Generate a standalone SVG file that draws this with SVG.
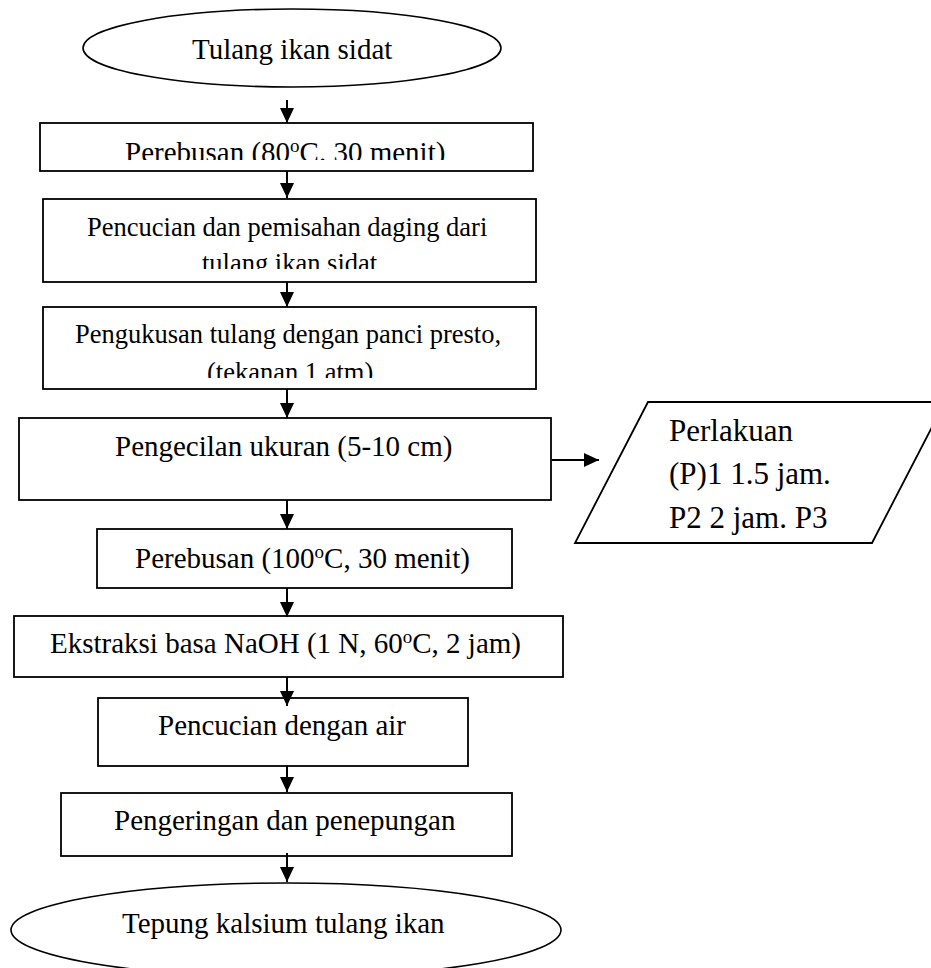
<svg xmlns="http://www.w3.org/2000/svg" width="931" height="968" viewBox="0 0 931 968">
<style>
  .shape { fill: #ffffff; stroke: #000000; stroke-width: 1.8; }
  .ell { fill: #ffffff; stroke: #000000; stroke-width: 1.6; }
  .t { font-family: "Liberation Serif", "Times New Roman", serif; fill: #000000; }
  .t29 { font-size: 29px; }
  .t26 { font-size: 26.5px; }
  .t31 { font-size: 31px; }
  .conn { stroke: #000000; stroke-width: 2; fill: none; }
</style>
<defs>
  <marker id="ah" markerUnits="userSpaceOnUse" markerWidth="16" markerHeight="16" refX="15" refY="7" orient="auto">
    <path d="M0,0 L15,7 L0,14 Z" fill="#000000"/>
  </marker>
  <clipPath id="c1"><rect x="0" y="0" width="931" height="160"/></clipPath>
  <clipPath id="c2"><rect x="0" y="0" width="931" height="269"/></clipPath>
  <clipPath id="c3"><rect x="0" y="0" width="931" height="378"/></clipPath>
</defs>
<rect x="0" y="0" width="931" height="968" fill="#ffffff"/>

<g id="start">
  <ellipse class="ell" cx="292" cy="48" rx="209" ry="39"/>
  <text class="t t29" x="192" y="59">Tulang ikan sidat</text>
</g>

<g id="step1">
  <rect class="shape" x="40" y="123" width="493" height="48"/>
  <text class="t t29" x="125" y="162" clip-path="url(#c1)">Perebusan (80<tspan font-size="19" dy="-10">o</tspan><tspan dy="10">C. 30 menit)</tspan></text>
</g>

<g id="step2">
  <rect class="shape" x="43" y="199" width="493" height="83"/>
  <text class="t t26" x="87" y="236">Pencucian dan pemisahan daging dari</text>
  <text class="t t26" x="202" y="272" clip-path="url(#c2)">tulang ikan sidat</text>
</g>

<g id="step3">
  <rect class="shape" x="43" y="307" width="493" height="82"/>
  <text class="t t26" x="75" y="343">Pengukusan tulang dengan panci presto,</text>
  <text class="t t26" x="207" y="381" clip-path="url(#c3)">(tekanan 1 atm)</text>
</g>

<g id="step4">
  <rect class="shape" x="19" y="418" width="532" height="82"/>
  <text class="t t29" x="115" y="456">Pengecilan ukuran (5-10 cm)</text>
</g>

<g id="treatment">
  <polygon class="shape" points="648,402 945,402 872,543 575,543"/>
  <text class="t t31" x="669" y="441">Perlakuan</text>
  <text class="t t31" x="669" y="484">(P)1 1.5 jam.</text>
  <text class="t t31" x="669" y="528">P2 2 jam. P3</text>
</g>

<g id="step5">
  <rect class="shape" x="97" y="529" width="415" height="59"/>
  <text class="t t29" x="135" y="568">Perebusan (100<tspan font-size="19" dy="-10">o</tspan><tspan dy="10">C, 30 menit)</tspan></text>
</g>

<g id="step6">
  <rect class="shape" x="14" y="616" width="549" height="61"/>
  <text class="t t29" x="50" y="653">Ekstraksi basa NaOH (1 N, 60<tspan font-size="19" dy="-10">o</tspan><tspan dy="10">C, 2 jam)</tspan></text>
</g>

<g id="step7">
  <rect class="shape" x="98" y="698" width="370" height="68"/>
  <text class="t t29" x="158" y="735">Pencucian dengan air</text>
</g>

<g id="step8">
  <rect class="shape" x="61" y="793" width="451" height="63"/>
  <text class="t t29" x="114" y="830">Pengeringan dan penepungan</text>
</g>

<g id="end">
  <ellipse class="ell" cx="286" cy="930" rx="275" ry="47"/>
  <text class="t t29" x="122" y="933">Tepung kalsium tulang ikan</text>
</g>

<g id="connectors">
  <line class="conn" x1="287" y1="100" x2="287" y2="123" marker-end="url(#ah)"/>
  <line class="conn" x1="287" y1="171" x2="287" y2="198" marker-end="url(#ah)"/>
  <line class="conn" x1="287" y1="282" x2="287" y2="307" marker-end="url(#ah)"/>
  <line class="conn" x1="287" y1="389" x2="287" y2="418" marker-end="url(#ah)"/>
  <line class="conn" x1="287" y1="500" x2="287" y2="529" marker-end="url(#ah)"/>
  <line class="conn" x1="287" y1="588" x2="287" y2="617" marker-end="url(#ah)"/>
  <line class="conn" x1="287" y1="677" x2="287" y2="706" marker-end="url(#ah)"/>
  <line class="conn" x1="287" y1="766" x2="287" y2="792" marker-end="url(#ah)"/>
  <line class="conn" x1="287" y1="853" x2="287" y2="882" marker-end="url(#ah)"/>
  <line class="conn" x1="552" y1="460" x2="599" y2="460" marker-end="url(#ah)"/>
</g>
</svg>
